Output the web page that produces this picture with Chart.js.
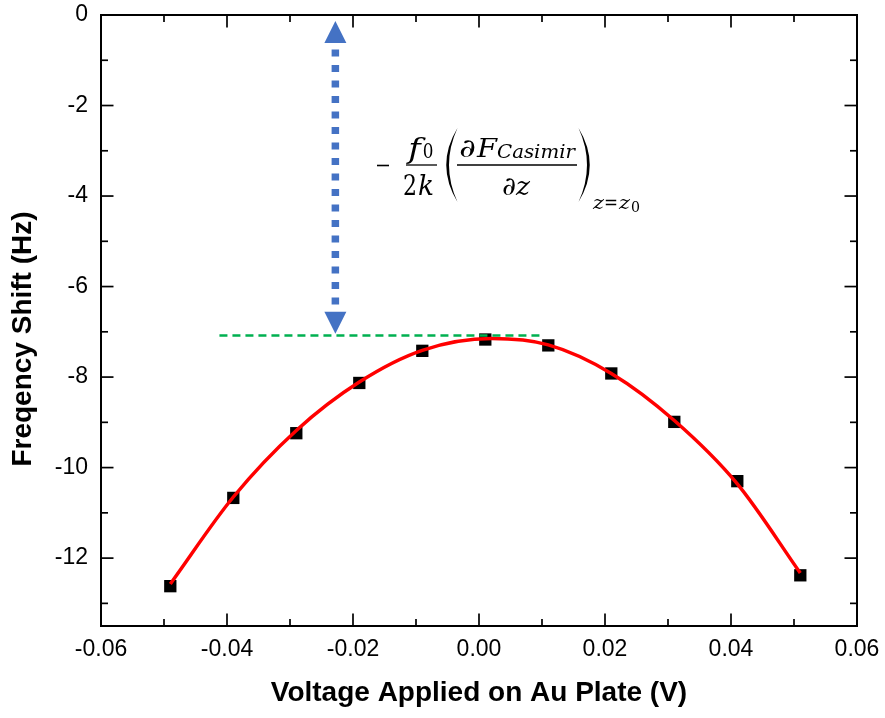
<!DOCTYPE html>
<html>
<head>
<meta charset="utf-8">
<script src="https://cdn.jsdelivr.net/npm/chart.js@4.4.1/dist/chart.umd.min.js"></script>
<style>
  html, body { margin: 0; padding: 0; background: #ffffff; }
  #wrap { width: 885px; height: 718px; }
</style>
</head>
<body>
<div id="wrap"><canvas id="c" width="885" height="718"></canvas></div>
<script>
// ---- data ----
const voltage   = [-0.049, -0.039, -0.029, -0.019, -0.009, 0.001, 0.011, 0.021, 0.031, 0.041, 0.051];
const freqShift = [-12.62, -10.67, -9.24, -8.13, -7.42, -7.17, -7.30, -7.92, -8.99, -10.30, -12.38];

// red fitted curve
const fitVoltage = [-0.049, -0.039, -0.029, -0.019, -0.009, 0.002, 0.011, 0.021, 0.031, 0.041, 0.051];
const fitShift   = [-12.57, -10.65, -9.18, -8.11, -7.41, -7.15, -7.29, -7.92, -8.96, -10.36, -12.33];

// green dashed reference level
const refLineX = [-0.0412, 0.0102];
const refLineY = [-7.08, -7.08];

// blue double arrow (data coordinates)
const arrowX = -0.0228;
const arrowYTop = -0.13;
const arrowYBottom = -7.04;

// axis ticks
const xTicks      = [-0.06, -0.04, -0.02, 0, 0.02, 0.04, 0.06];
const xTickLabels = ['-0.06', '-0.04', '-0.02', '0.00', '0.02', '0.04', '0.06'];
const xMinorTicks = [-0.05, -0.03, -0.01, 0.01, 0.03, 0.05];
const yTicks      = [0, -2, -4, -6, -8, -10, -12];
const yTickLabels = ['0', '-2', '-4', '-6', '-8', '-10', '-12'];
const yMinorTicks = [-1, -3, -5, -7, -9, -11, -13];

const xTitle = 'Voltage Applied on Au Plate (V)';
const yTitle = 'Freqency Shift (Hz)';

const SANS = '"Liberation Sans", Arial, sans-serif';
const SERIF = '"DejaVu Serif", "Liberation Serif", serif';

// draw text inside a target box [x, x+w], mildly scaled toward width w
function fitText(ctx, txt, x, base, w, font) {
  ctx.font = font;
  const m = ctx.measureText(txt).width;
  const s = Math.max(0.8, Math.min(1.25, w / m));
  ctx.save();
  ctx.translate(x + (w - m * s) / 2, base);
  ctx.scale(s, 1);
  ctx.fillText(txt, 0, 0);
  ctx.restore();
}

const decorPlugin = {
  id: 'decor',
  afterDatasetsDraw(chart) {
    const { ctx, chartArea: a, scales: { x, y } } = chart;
    ctx.save();

    // --- blue dotted double arrow ---
    const ax = x.getPixelForValue(arrowX);
    const yT = y.getPixelForValue(arrowYTop);
    const yB = y.getPixelForValue(arrowYBottom);
    const head = 22, halfW = 11;
    ctx.fillStyle = '#4472c4';
    ctx.beginPath();
    ctx.moveTo(ax, yT); ctx.lineTo(ax - halfW, yT + head); ctx.lineTo(ax + halfW, yT + head); ctx.closePath();
    ctx.fill();
    ctx.beginPath();
    ctx.moveTo(ax, yB); ctx.lineTo(ax - halfW, yB - head); ctx.lineTo(ax + halfW, yB - head); ctx.closePath();
    ctx.fill();
    ctx.strokeStyle = '#4472c4';
    ctx.lineWidth = 7.5;
    ctx.lineCap = 'butt';
    ctx.setLineDash([7, 8.5]);
    ctx.beginPath();
    ctx.moveTo(ax, yT + head + 6.5);
    ctx.lineTo(ax, yB - head - 4);
    ctx.stroke();
    ctx.setLineDash([]);

    // --- formula ---
    ctx.fillStyle = '#000';
    ctx.strokeStyle = '#000';
    ctx.textAlign = 'left';
    ctx.textBaseline = 'alphabetic';
    ctx.lineWidth = 1.6;
    ctx.beginPath(); ctx.moveTo(377, 165.5); ctx.lineTo(389, 165.5); ctx.stroke();
    fitText(ctx, 'f', 407, 158, 15, 'italic 27px ' + SERIF);
    fitText(ctx, '0', 423, 158, 10, '21px ' + SERIF);
    ctx.lineWidth = 1.3;
    ctx.beginPath(); ctx.moveTo(406, 165); ctx.lineTo(437, 165); ctx.stroke();
    fitText(ctx, '2', 403, 195, 14, '27px ' + SERIF);
    fitText(ctx, 'k', 418, 195, 16, 'italic 27px ' + SERIF);
    // left parenthesis
    ctx.beginPath();
    ctx.moveTo(457.5, 128);
    ctx.quadraticCurveTo(435, 165, 457.5, 202);
    ctx.quadraticCurveTo(440.5, 165, 457.5, 128);
    ctx.fill();
    fitText(ctx, '\u2202', 459, 157, 17, 'italic 26px ' + SERIF);
    fitText(ctx, 'F', 477, 157, 20, 'italic 26px ' + SERIF);
    fitText(ctx, 'Casimir', 497, 158, 78, 'italic 18px ' + SERIF);
    ctx.beginPath(); ctx.moveTo(457, 165); ctx.lineTo(577, 165); ctx.stroke();
    fitText(ctx, '\u2202', 502, 195, 14, 'italic 26px ' + SERIF);
    fitText(ctx, 'z', 516, 195, 14, 'italic 26px ' + SERIF);
    // right parenthesis
    ctx.beginPath();
    ctx.moveTo(578.5, 128);
    ctx.quadraticCurveTo(601, 165, 578.5, 202);
    ctx.quadraticCurveTo(595.5, 165, 578.5, 128);
    ctx.fill();
    fitText(ctx, 'z', 593, 209, 11, 'italic 18px ' + SERIF);
    fitText(ctx, '=', 604, 209, 14, '18px ' + SERIF);
    fitText(ctx, 'z', 619, 209, 11, 'italic 18px ' + SERIF);
    fitText(ctx, '0', 631, 212, 9, '14px ' + SERIF);

    // --- y axis title ---
    ctx.save();
    ctx.translate(23, 339);
    ctx.rotate(-Math.PI / 2);
    ctx.textAlign = 'center';
    ctx.textBaseline = 'middle';
    ctx.font = 'bold 28px ' + SANS;
    ctx.fillText(yTitle, 0, 0);
    ctx.restore();

    // --- frame and inward ticks on all four sides ---
    ctx.strokeStyle = '#000';
    ctx.lineWidth = 2;
    ctx.strokeRect(a.left, a.top, a.right - a.left, a.bottom - a.top);
    ctx.lineWidth = 1.7;
    const seg = (x1, y1, x2, y2) => { ctx.beginPath(); ctx.moveTo(x1, y1); ctx.lineTo(x2, y2); ctx.stroke(); };
    const major = 12.5, minor = 7;
    xTicks.forEach(v => { const p = x.getPixelForValue(v); seg(p, a.bottom, p, a.bottom - major); seg(p, a.top, p, a.top + major); });
    xMinorTicks.forEach(v => { const p = x.getPixelForValue(v); seg(p, a.bottom, p, a.bottom - minor); seg(p, a.top, p, a.top + minor); });
    yTicks.forEach(v => { const p = y.getPixelForValue(v); seg(a.left, p, a.left + major, p); seg(a.right, p, a.right - major, p); });
    yMinorTicks.forEach(v => { const p = y.getPixelForValue(v); seg(a.left, p, a.left + minor, p); seg(a.right, p, a.right - minor, p); });

    ctx.restore();
  }
};

const pts = (xs, ys) => xs.map((v, i) => ({ x: v, y: ys[i] }));

new Chart(document.getElementById('c'), {
  type: 'scatter',
  data: {
    datasets: [
      {
        label: 'reference level',
        data: pts(refLineX, refLineY),
        showLine: true,
        borderColor: '#00b050',
        borderWidth: 2.6,
        borderDash: [8, 5],
        pointRadius: 0,
        fill: false
      },
      {
        label: 'fit',
        data: pts(fitVoltage, fitShift),
        showLine: true,
        borderColor: '#ff0000',
        borderWidth: 3.5,
        cubicInterpolationMode: 'monotone',
        pointRadius: 0,
        fill: false
      },
      {
        label: 'data',
        data: pts(voltage, freqShift),
        showLine: false,
        pointStyle: 'rect',
        pointRadius: 8.7,
        backgroundColor: '#000000',
        borderColor: '#000000',
        borderWidth: 0
      }
    ]
  },
  options: {
    responsive: false,
    animation: false,
    devicePixelRatio: 1,
    layout: { padding: { left: 0, right: 28, top: 15, bottom: 0 } },
    plugins: { legend: { display: false }, tooltip: { enabled: false } },
    scales: {
      x: {
        type: 'linear',
        min: -0.06,
        max: 0.06,
        grid: { display: false, drawTicks: false },
        border: { display: false },
        afterBuildTicks: s => { s.ticks = xTicks.map(v => ({ value: v })); },
        afterFit: s => { s.height = 92; s.paddingLeft = 0; s.paddingRight = 0; },
        ticks: {
          padding: 10,
          color: '#000',
          autoSkip: false,
          maxRotation: 0,
          font: { family: SANS, size: 23 },
          callback: (v, i) => xTickLabels[i]
        },
        title: {
          display: true,
          text: xTitle,
          color: '#000',
          font: { family: SANS, size: 28, weight: 'bold' },
          padding: { top: 0, bottom: 8 }
        }
      },
      y: {
        type: 'linear',
        min: -13.5,
        max: 0,
        grid: { display: false, drawTicks: false },
        border: { display: false },
        afterBuildTicks: s => { s.ticks = yTicks.map(v => ({ value: v })); },
        afterFit: s => { s.width = 101; s.paddingTop = 0; s.paddingBottom = 0; },
        ticks: {
          padding: 13,
          color: '#000',
          autoSkip: false,
          font: { family: SANS, size: 23 },
          callback: (v, i) => yTickLabels[i]
        }
      }
    }
  },
  plugins: [decorPlugin]
});
</script>
</body>
</html>
